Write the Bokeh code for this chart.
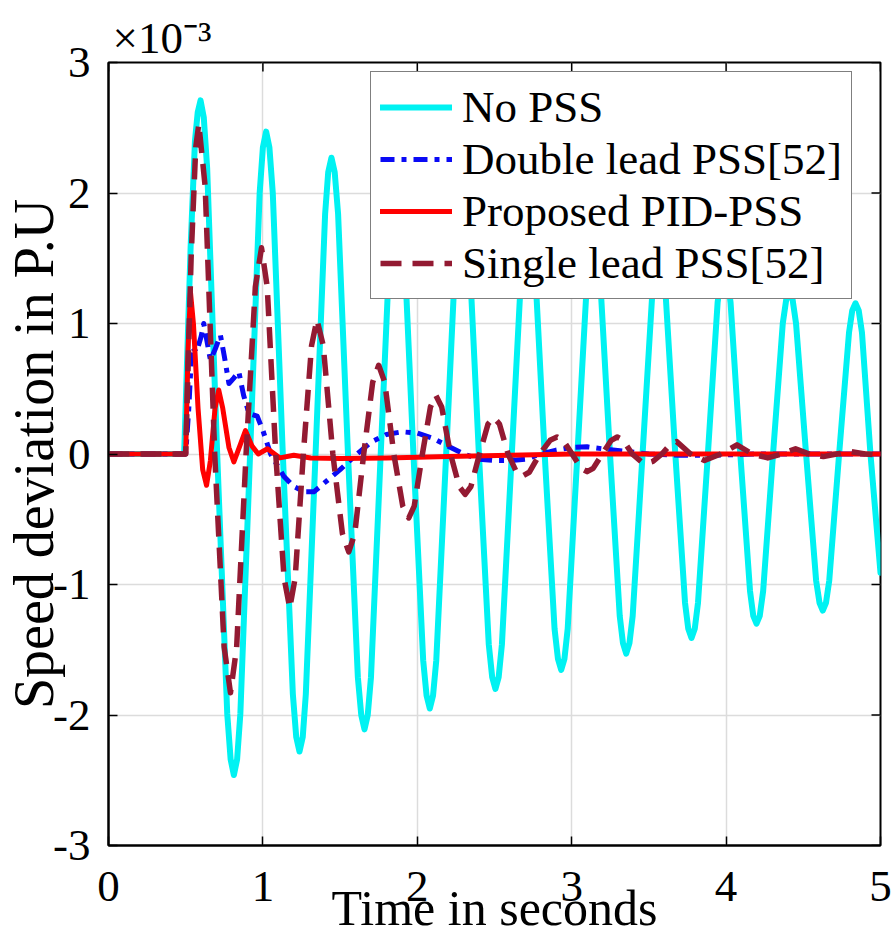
import math
from bokeh.plotting import figure
from bokeh.models import (Range1d, FixedTicker, Legend, LegendItem)
from bokeh.embed import file_html
from bokeh.resources import INLINE

# ---------------- data (values in 1e-3 p.u.) ----------------
no_pss_t = [0, 0.49, 0.532, 0.560, 0.578, 0.596, 0.617, 0.639, 0.704, 0.769, 0.791, 0.812, 0.833, 0.854,
            0.917, 0.979, 1.000, 1.021, 1.042, 1.064, 1.129, 1.194, 1.216, 1.237, 1.258, 1.278,
            1.341, 1.403, 1.423, 1.444, 1.465, 1.487, 1.551, 1.615, 1.637, 1.658, 1.679, 1.700,
            1.763, 1.826, 1.847, 1.868, 1.889, 1.911, 1.975, 2.038, 2.060, 2.081, 2.102, 2.123,
            2.187, 2.250, 2.271, 2.292, 2.313, 2.335, 2.399, 2.463, 2.485, 2.506, 2.527, 2.548,
            2.612, 2.676, 2.697, 2.718, 2.739, 2.761, 2.825, 2.889, 2.911, 2.932, 2.953, 2.974,
            3.037, 3.100, 3.121, 3.142, 3.163, 3.184, 3.248, 3.311, 3.332, 3.353, 3.374, 3.395,
            3.459, 3.523, 3.544, 3.565, 3.586, 3.607, 3.671, 3.734, 3.755, 3.776, 3.797, 3.818,
            3.882, 3.945, 3.966, 3.987, 4.008, 4.029, 4.092, 4.155, 4.176, 4.197, 4.218, 4.240,
            4.304, 4.367, 4.389, 4.410, 4.431, 4.453, 4.518, 4.583, 4.605, 4.626, 4.647, 4.668,
            4.732, 4.796, 4.817, 4.838, 4.859, 4.880, 4.935, 5.0]
no_pss_v = [0, 0, 1.59, 2.40, 2.62, 2.71, 2.58, 2.19, 0, -1.99, -2.34, -2.46, -2.34, -1.99,
            0, 2.00, 2.35, 2.47, 2.35, 2.00, 0, -1.84, -2.17, -2.28, -2.17, -1.84,
            0, 1.84, 2.16, 2.27, 2.16, 1.84, 0, -1.71, -2.00, -2.11, -2.00, -1.71,
            0, 1.70, 2.00, 2.10, 2.00, 1.70, 0, -1.58, -1.85, -1.95, -1.85, -1.58,
            0, 1.58, 1.85, 1.95, 1.85, 1.58, 0, -1.46, -1.71, -1.80, -1.71, -1.46,
            0, 1.46, 1.71, 1.80, 1.71, 1.46, 0, -1.34, -1.57, -1.655, -1.57, -1.34,
            0, 1.35, 1.59, 1.67, 1.59, 1.35, 0, -1.24, -1.45, -1.53, -1.45, -1.24,
            0, 1.25, 1.46, 1.54, 1.46, 1.25, 0, -1.14, -1.34, -1.41, -1.34, -1.14,
            0, 1.16, 1.36, 1.43, 1.36, 1.16, 0, -1.05, -1.24, -1.30, -1.24, -1.05,
            0, 1.00, 1.18, 1.24, 1.18, 1.00, 0, -0.97, -1.14, -1.20, -1.14, -0.97,
            0, 0.93, 1.10, 1.155, 1.10, 0.93, 0, -0.91]

double_t = [0, 0.5, 0.52, 0.54, 0.57, 0.60, 0.617, 0.64, 0.66, 0.69, 0.725, 0.75, 0.78, 0.81,
            0.844, 0.875, 0.91, 0.963, 1.0, 1.05, 1.135, 1.2, 1.27, 1.33, 1.4, 1.5, 1.6, 1.7,
            1.8, 1.9, 2.0, 2.1, 2.2, 2.3, 2.4, 2.5, 2.6, 2.7, 2.8, 2.9, 3.0, 3.1, 3.2, 3.35,
            3.5, 3.7, 3.9, 4.2, 5.0]
double_v = [0, 0, 0.35, 0.82, 0.78, 0.90, 1.00, 0.85, 0.72, 0.80, 0.91, 0.75, 0.54, 0.58,
            0.63, 0.45, 0.31, 0.29, 0.18, 0.0, -0.17, -0.25, -0.29, -0.29, -0.22, -0.12, -0.01, 0.09,
            0.15, 0.17, 0.16, 0.12, 0.06, 0.0, -0.04, -0.05, -0.05, -0.04, 0.0, 0.03, 0.05, 0.055, 0.04, 0.02,
            0.0, -0.01, -0.01, 0.0, 0.0]

pid_t = [0, 0.5, 0.515, 0.531, 0.55, 0.58, 0.61, 0.635, 0.66, 0.69, 0.714, 0.74, 0.78, 0.812,
         0.85, 0.887, 0.93, 0.97, 1.03, 1.11, 1.2, 1.31, 1.5, 1.8, 2.2, 2.6, 3.0, 5.0]
pid_v = [0, 0, 0.80, 1.24, 1.00, 0.35, -0.12, -0.24, -0.05, 0.35, 0.49, 0.35, 0.05, -0.06,
         0.06, 0.18, 0.06, 0.0, 0.04, -0.03, -0.01, -0.03, -0.035, -0.03, -0.02, -0.01, 0.0, 0.0]

single_t = [0, 0.5, 0.535, 0.565, 0.585, 0.626, 0.688, 0.749, 0.79, 0.830, 0.891, 0.951,
            0.991, 1.028, 1.083, 1.137, 1.174, 1.209, 1.262, 1.315, 1.35, 1.391, 1.453, 1.515,
            1.556, 1.595, 1.653, 1.711, 1.75, 1.789, 1.848, 1.906, 1.945, 1.980, 2.033, 2.085,
            2.12, 2.158, 2.215, 2.272, 2.31, 2.347, 2.403, 2.458, 2.495, 2.532, 2.588, 2.643,
            2.68, 2.725, 2.793, 2.860, 2.905, 2.944, 3.003, 3.061, 3.10, 3.139, 3.198, 3.256,
            3.295, 3.334, 3.392, 3.449, 3.488, 3.526, 3.584, 3.642, 3.68, 3.77, 3.86, 3.965,
            4.07, 4.17, 4.27, 4.36, 4.45, 4.54, 4.63, 4.715, 4.8, 4.9, 5.0]
single_v = [0, 0, 1.50, 2.35, 2.53, 2.05, 0, -1.48, -1.83, -1.48, 0, 1.28,
            1.58, 1.28, 0, -0.95, -1.18, -0.95, 0, 0.83, 1.03, 0.83, 0, -0.61,
            -0.75, -0.61, 0, 0.55, 0.68, 0.55, 0, -0.40, -0.49, -0.40, 0, 0.36,
            0.45, 0.36, 0, -0.25, -0.31, -0.25, 0, 0.23, 0.28, 0.23, 0, -0.14,
            -0.17, -0.14, 0, 0.105, 0.13, 0.105, 0, -0.11, -0.135, -0.11, 0, 0.105,
            0.13, 0.105, 0, -0.057, -0.07, -0.057, 0, 0.077, 0.095, 0, -0.05, 0,
            0.07, 0, -0.03, 0, 0.04, 0, -0.02, 0, 0.02, 0, -0.01]

x_ticks = [0, 1, 2, 3, 4, 5]
y_ticks = [-3, -2, -1, 0, 1, 2, 3]
x_tick_labels = ["0", "1", "2", "3", "4", "5"]
y_tick_labels = ["-3", "-2", "-1", "0", "1", "2", "3"]
series_names = ["No PSS", "Double lead PSS[52]", "Proposed PID-PSS", "Single lead PSS[52]"]
x_title = "Time in seconds"
y_title = "Speed deviation in P.U"
scale_text = "×10⁻³"
x_min, x_max = 0, 5
y_min, y_max = -3, 3

FONT = "Liberation Serif"

p = figure(output_backend="svg", toolbar_location=None,
           frame_width=772, frame_height=783,
           x_range=Range1d(x_min, x_max), y_range=Range1d(y_min, y_max),
           min_border_left=108, min_border_top=62, min_border_right=14, min_border_bottom=90,
           background_fill_color="white", border_fill_color="white")

p.outline_line_color = "black"
p.outline_line_width = 2
p.outline_line_alpha = 1

# scale factor shown above the top-left corner
p.title.text = scale_text
p.title.align = "left"
p.title.offset = 4
p.title.standoff = 0
p.title.text_font = FONT
p.title.text_font_size = "45px"
p.title.text_font_style = "normal"
p.title.text_color = "black"

# grid
for g in (p.xgrid, p.ygrid):
    g.grid_line_color = "#dcdcdc"
    g.grid_line_width = 1.5
p.xgrid.ticker = FixedTicker(ticks=x_ticks)
p.ygrid.ticker = FixedTicker(ticks=y_ticks)

def style_axis(ax, ticks, labels):
    ax.ticker = FixedTicker(ticks=ticks)
    ax.major_label_overrides = {t: l for t, l in zip(ticks, labels)}
    ax.major_tick_in = 9
    ax.major_tick_out = 0
    ax.minor_tick_in = 0
    ax.minor_tick_out = 0
    ax.major_tick_line_color = "black"
    ax.major_tick_line_width = 1.5
    ax.axis_line_color = "black"
    ax.axis_line_width = 2
    ax.major_label_text_font = FONT
    ax.major_label_text_color = "black"
    ax.major_label_text_font_size = "45px"

style_axis(p.xaxis[0], x_ticks, x_tick_labels)
style_axis(p.yaxis[0], y_ticks, y_tick_labels)
p.xaxis[0].major_label_standoff = 26
p.yaxis[0].major_label_standoff = 18

p.xaxis[0].axis_label = x_title
p.xaxis[0].axis_label_text_font = FONT
p.xaxis[0].axis_label_text_font_size = "50px"
p.xaxis[0].axis_label_text_font_style = "normal"
p.xaxis[0].axis_label_text_color = "black"
p.xaxis[0].axis_label_standoff = -24

p.yaxis[0].axis_label = y_title
p.yaxis[0].axis_label_text_font = FONT
p.yaxis[0].axis_label_text_font_size = "56px"
p.yaxis[0].axis_label_text_font_style = "normal"
p.yaxis[0].axis_label_text_color = "black"
p.yaxis[0].axis_label_standoff = -15

# inward ticks on the top and right sides of the box (clipped to the frame)
p.scatter(x_ticks, [y_max] * len(x_ticks), marker="dash", angle=math.pi / 2, size=18,
          line_color="black", line_width=1.5)
p.scatter([x_max] * len(y_ticks), y_ticks, marker="dash", size=18,
          line_color="black", line_width=1.5)

# lines (later ones drawn on top)
r1 = p.line(no_pss_t, no_pss_v, line_color="#00f2f2", line_width=6, line_join="round", line_cap="round")
r2 = p.line(double_t, double_v, line_color="#0a0af5", line_width=5, line_dash="14 7 5 7", line_join="round")
r3 = p.line(pid_t, pid_v, line_color="#ff0000", line_width=5, line_join="round", line_cap="round")
r4 = p.line(single_t, single_v, line_color="#931a32", line_width=5.5, line_dash="21 11", line_join="round")

legend = Legend(items=[LegendItem(label=series_names[0], renderers=[r1]),
                       LegendItem(label=series_names[1], renderers=[r2]),
                       LegendItem(label=series_names[2], renderers=[r3]),
                       LegendItem(label=series_names[3], renderers=[r4])],
                location=(262, 546))
legend.label_text_font = FONT
legend.label_text_font_size = "45px"
legend.label_text_color = "black"
legend.glyph_width = 72
legend.glyph_height = 50
legend.label_height = 50
legend.label_standoff = 10
legend.spacing = 0
legend.padding = 9
legend.margin = 0
legend.border_line_color = "black"
legend.border_line_width = 1.5
legend.background_fill_color = "white"
legend.background_fill_alpha = 1
p.add_layout(legend, "center")

open("out.html", "w").write(file_html(p, INLINE))
